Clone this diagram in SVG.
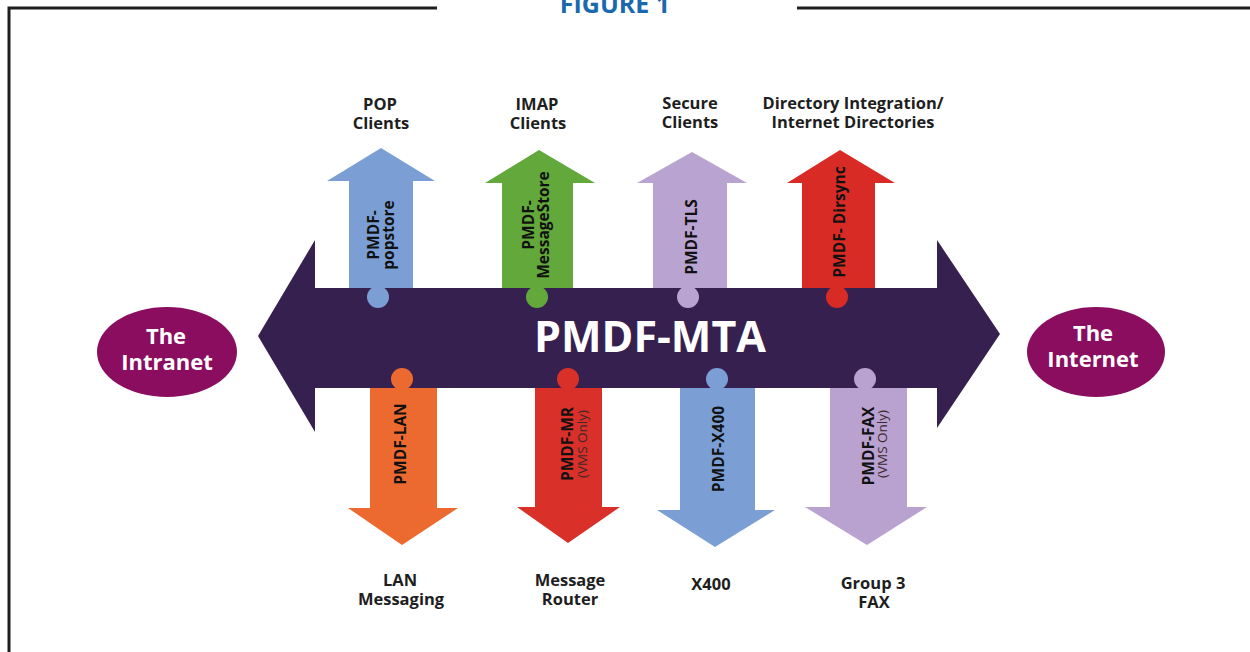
<svg xmlns="http://www.w3.org/2000/svg" width="1250" height="652" viewBox="0 0 1250 652">
<style>
.frame{stroke:#1e1e1e;stroke-width:3;fill:none}
.lbl{font-family:"Open Sans","Liberation Sans",sans-serif;font-weight:bold;font-size:16.5px;fill:#1e1e1e;text-anchor:middle}
.rot{font-family:"Open Sans","Liberation Sans",sans-serif;font-weight:bold;font-size:15.5px;fill:#111;text-anchor:middle}
.rotsub{font-family:"Open Sans","Liberation Sans",sans-serif;font-weight:normal;font-size:13.5px;fill:#3a2a2a;text-anchor:middle}
.ell{fill:#8a0d5f}
.ellt{font-family:"Open Sans","Liberation Sans",sans-serif;font-weight:bold;font-size:22px;fill:#fff;text-anchor:middle}
.bar{fill:#36204f}
</style>
<rect width="1250" height="652" fill="#fff"/>
<g id="frame">
<path class="frame" d="M9,652 V8 H437 M797,8 H1250"/>
<text x="615" y="13" style="font-family:'Open Sans','Liberation Sans',sans-serif;font-weight:bold;font-size:25px;fill:#1b69ad;text-anchor:middle">FIGURE 1</text>
</g>
<g id="connectors">
<polygon id="arr-pop" fill="#7b9fd5" points="381,148 435,181 413,181 413,292 349,292 349,181 327,181"/>
<polygon id="arr-imap" fill="#62a83a" points="539,150 595,183 573,183 573,292 502,292 502,183 485,183"/>
<polygon id="arr-tls" fill="#b9a3d1" points="692,152 747,183 727,183 727,292 653,292 653,183 637,183"/>
<polygon id="arr-dir" fill="#d82b26" points="840,150 895,183 875,183 875,292 802,292 802,183 787,183"/>
<polygon id="arr-lan" fill="#ec6a30" points="370,385 437,385 437,508 458,508 402,545 348,508 370,508"/>
<polygon id="arr-mr" fill="#d9302a" points="535,385 602,385 602,507 620,507 568,543 517,507 535,507"/>
<polygon id="arr-x400" fill="#7b9fd5" points="680,385 755,385 755,510 775,510 715,547 657,510 680,510"/>
<polygon id="arr-fax" fill="#b9a1d0" points="830,385 907,385 907,507 927,507 867,545 805,507 830,507"/>
</g>
<g id="mta">
<polygon class="bar" points="258,336 315,240 315,288 937,288 937,240 1000,334 937,428 937,388 315,388 315,432"/>
<text x="650" y="352" style="font-family:'Open Sans','Liberation Sans',sans-serif;font-weight:bold;font-size:43px;fill:#fff;text-anchor:middle">PMDF-MTA</text>
</g>
<g id="knobs">
<circle cx="378" cy="297" r="11" fill="#7b9fd5"/>
<circle cx="537" cy="297" r="11" fill="#62a83a"/>
<circle cx="688" cy="297" r="11" fill="#b9a3d1"/>
<circle cx="837" cy="297" r="11" fill="#d82b26"/>
<circle cx="402" cy="379" r="11" fill="#ec6a30"/>
<circle cx="568" cy="379" r="11" fill="#d9302a"/>
<circle cx="717" cy="379" r="11" fill="#7b9fd5"/>
<circle cx="865" cy="379" r="11" fill="#b9a1d0"/>
</g>
<g id="node-pop">
<text class="rot" transform="translate(379,235) rotate(-90)">PMDF-</text>
<text class="rot" transform="translate(394,235) rotate(-90)">popstore</text>
<text class="lbl" x="380" y="110">POP</text>
<text class="lbl" x="381" y="129">Clients</text>
</g>
<g id="node-imap">
<text class="rot" transform="translate(534,225) rotate(-90)">PMDF-</text>
<text class="rot" transform="translate(549,225) rotate(-90)">MessageStore</text>
<text class="lbl" x="537" y="110">IMAP</text>
<text class="lbl" x="538" y="129">Clients</text>
</g>
<g id="node-tls">
<text class="rot" transform="translate(697,237) rotate(-90)">PMDF-TLS</text>
<text class="lbl" x="690" y="109">Secure</text>
<text class="lbl" x="690" y="128">Clients</text>
</g>
<g id="node-dirsync">
<text class="rot" transform="translate(845,222) rotate(-90)">PMDF- Dirsync</text>
<text class="lbl" x="853" y="109" textLength="181" lengthAdjust="spacingAndGlyphs">Directory Integration/</text>
<text class="lbl" x="853" y="128" textLength="163" lengthAdjust="spacingAndGlyphs">Internet Directories</text>
</g>
<g id="node-lan">
<text class="rot" transform="translate(406,444) rotate(-90)">PMDF-LAN</text>
<text class="lbl" x="400" y="586">LAN</text>
<text class="lbl" x="401" y="605">Messaging</text>
</g>
<g id="node-mr">
<text class="rot" transform="translate(573,444) rotate(-90)">PMDF-MR</text>
<text class="rotsub" transform="translate(587,444) rotate(-90)">(VMS Only)</text>
<text class="lbl" x="570" y="586">Message</text>
<text class="lbl" x="570" y="605">Router</text>
</g>
<g id="node-x400">
<text class="rot" transform="translate(724,449) rotate(-90)">PMDF-X400</text>
<text class="lbl" x="711" y="590">X400</text>
</g>
<g id="node-fax">
<text class="rot" transform="translate(874,446) rotate(-90)">PMDF-FAX</text>
<text class="rotsub" transform="translate(887,444) rotate(-90)">(VMS Only)</text>
<text class="lbl" x="873" y="589">Group 3</text>
<text class="lbl" x="874" y="608">FAX</text>
</g>
<g id="node-intranet">
<ellipse class="ell" cx="167" cy="352" rx="70" ry="45"/>
<text class="ellt" x="166" y="344">The</text>
<text class="ellt" x="167" y="370">Intranet</text>
</g>
<g id="node-internet">
<ellipse class="ell" cx="1096" cy="352" rx="69" ry="45"/>
<text class="ellt" x="1093" y="341">The</text>
<text class="ellt" x="1093" y="367">Internet</text>
</g>
</svg>
